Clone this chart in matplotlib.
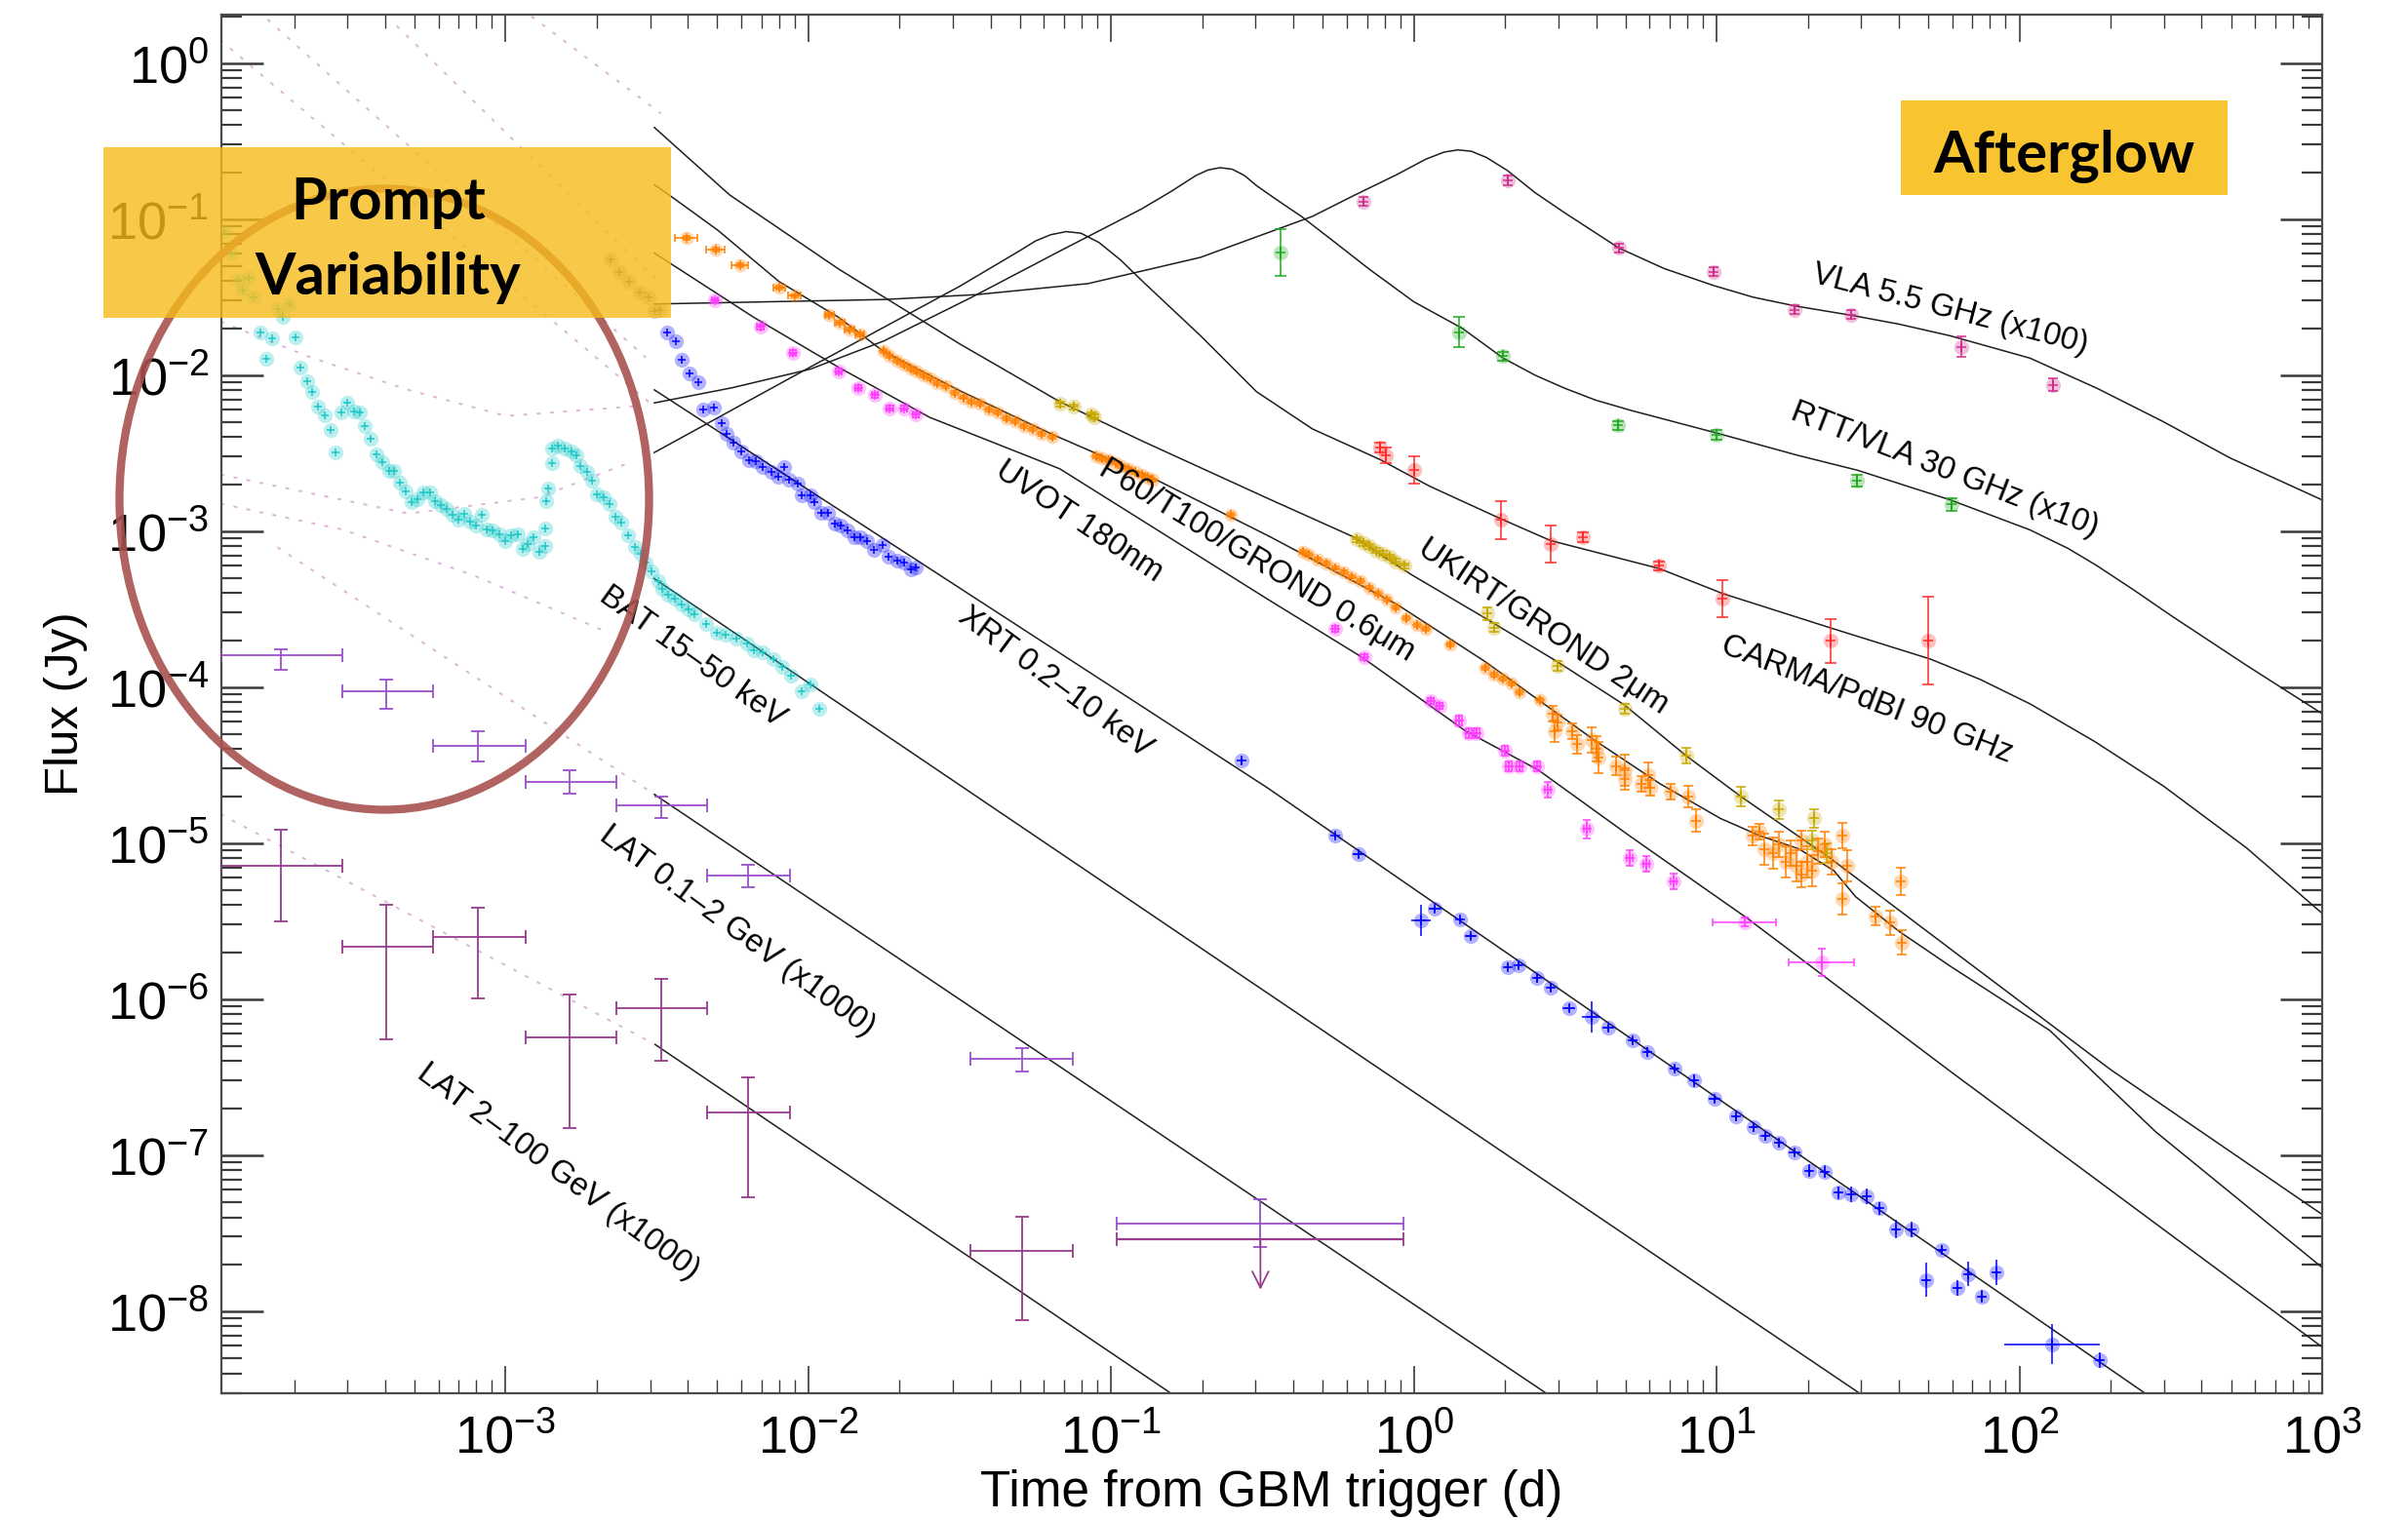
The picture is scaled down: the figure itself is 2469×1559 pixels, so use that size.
import numpy as np
import matplotlib.pyplot as plt
from matplotlib.patches import Ellipse, Rectangle
from matplotlib.ticker import FixedLocator, FuncFormatter, NullFormatter

plt.rcParams['font.family'] = ['Liberation Sans', 'DejaVu Sans']
plt.rcParams['mathtext.fontset'] = 'custom'
plt.rcParams['mathtext.rm'] = 'Liberation Sans'
plt.rcParams['mathtext.it'] = 'Liberation Sans'
plt.rcParams['mathtext.bf'] = 'Liberation Sans'

# ---- data: log10(time / d), log10(flux / Jy) ----
bat_logt = [-3.928, -3.907, -3.885, -3.869, -3.848, -3.832, -3.810, -3.792, -3.772, -3.751,
            -3.735, -3.713, -3.695, -3.678, -3.654, -3.638, -3.620, -3.598, -3.579, -3.561,
            -3.542, -3.522, -3.502, -3.480, -3.464, -3.445, -3.427, -3.407, -3.386, -3.370,
            -3.348, -3.330, -3.310, -3.291, -3.273, -3.251, -3.233, -3.214, -3.194, -3.176,
            -3.155, -3.136, -3.117, -3.098, -3.079, -3.063, -3.042, -3.020, -3.001, -2.983,
            -2.961, -2.945, -2.926, -2.908, -2.888, -2.870, -2.868, -2.865, -2.859, -2.848,
            -2.846, -2.827, -2.805, -2.784, -2.768, -2.752, -2.730, -2.714, -2.698, -2.676,
            -2.657, -2.636, -2.617, -2.596, -2.574, -2.553, -2.537, -2.517, -2.496, -2.483,
            -2.464, -2.440, -2.419, -2.397, -2.376, -2.339, -2.303, -2.274, -2.238, -2.202,
            -2.180, -2.151, -2.115, -2.087, -2.058, -2.022, -1.993, -1.964]
bat_logf = [-1.074, -1.220, -1.386, -1.459, -1.376, -1.501, -1.724, -1.897, -1.762, -1.574,
            -1.626, -1.543, -1.757, -1.949, -2.037, -2.105, -2.199, -2.255, -2.349, -2.495,
            -2.241, -2.178, -2.230, -2.237, -2.328, -2.407, -2.508, -2.557, -2.616, -2.612,
            -2.691, -2.745, -2.814, -2.793, -2.751, -2.751, -2.808, -2.835, -2.856, -2.897,
            -2.924, -2.887, -2.939, -2.966, -2.897, -2.991, -2.995, -3.018, -3.064, -3.029,
            -3.022, -3.116, -3.085, -3.037, -3.133, -3.095, -2.980, -2.808, -2.724, -2.564,
            -2.470, -2.449, -2.470, -2.491, -2.516, -2.585, -2.620, -2.678, -2.762, -2.783,
            -2.828, -2.907, -2.945, -3.029, -3.099, -3.147, -3.199, -3.258, -3.320, -3.370,
            -3.408, -3.433, -3.470, -3.501, -3.533, -3.594, -3.650, -3.664, -3.691, -3.719,
            -3.761, -3.775, -3.817, -3.873, -3.929, -4.026, -3.985, -4.138]

grey_logt = [-2.653, -2.625, -2.591, -2.558, -2.528, -2.510, -2.488]
grey_logf = [-1.257, -1.336, -1.403, -1.470, -1.501, -1.591, -1.580]

xrt_early_logt = [-2.468, -2.439, -2.418, -2.393, -2.364, -2.346, -2.313, -2.288, -2.269, -2.249,
                  -2.223, -2.195, -2.173, -2.151, -2.123, -2.101, -2.079, -2.065, -2.036, -2.022,
                  -1.993, -1.979, -1.957, -1.936, -1.914, -1.892, -1.871, -1.849, -1.828, -1.806,
                  -1.784, -1.756, -1.734, -1.705, -1.684, -1.662, -1.645]
xrt_early_logf = [-1.724, -1.780, -1.900, -1.989, -2.045, -2.218, -2.207, -2.310, -2.374, -2.430,
                  -2.491, -2.542, -2.553, -2.589, -2.617, -2.653, -2.589, -2.673, -2.692, -2.770,
                  -2.770, -2.812, -2.882, -2.882, -2.952, -2.966, -2.994, -3.036, -3.036, -3.063,
                  -3.119, -3.091, -3.161, -3.189, -3.203, -3.245, -3.231]

xrt_late_logt = [-0.568, -0.261, -0.182, 0.023, 0.070, 0.153, 0.188, 0.310, 0.346, 0.408,
                 0.451, 0.512, 0.586, 0.642, 0.723, 0.770, 0.860, 0.925, 0.993, 1.065,
                 1.122, 1.160, 1.206, 1.257, 1.306, 1.356, 1.403, 1.443, 1.495, 1.536,
                 1.591, 1.643, 1.743, 1.692, 1.796, 1.832, 1.877, 1.923, 2.107, 2.264]
xrt_late_logf = [-4.473, -4.952, -5.072, -5.496, -5.421, -5.488, -5.594, -5.795, -5.781, -5.865,
                 -5.924, -6.055, -6.111, -6.182, -6.263, -6.338, -6.445, -6.522, -6.639, -6.754,
                 -6.821, -6.877, -6.922, -6.984, -7.098, -7.106, -7.241, -7.252, -7.262, -7.341,
                 -7.475, -7.475, -7.606, -7.798, -7.850, -7.761, -7.906, -7.750, -8.211, -8.314]
xrt_late_dt = [0, 0, 0.02, 0.032, 0.02, 0.01, 0.02, 0.01, 0.01, 0.01,
               0.01, 0.02, 0.03, 0.02, 0.01, 0.01, 0.01, 0.01, 0.02, 0.01,
               0.01, 0.01, 0.01, 0.02, 0.01, 0.01, 0.01, 0.01, 0.01, 0.01,
               0.01, 0.01, 0.01, 0.01, 0.01, 0.01, 0.01, 0.01, 0.157, 0.01]
xrt_late_df = [0.02, 0.02, 0.02, 0.10, 0.02, 0.02, 0.02, 0.02, 0.02, 0.03,
               0.03, 0.02, 0.10, 0.02, 0.02, 0.03, 0.02, 0.04, 0.02, 0.03,
               0.03, 0.03, 0.03, 0.02, 0.04, 0.04, 0.04, 0.05, 0.05, 0.04,
               0.06, 0.05, 0.03, 0.11, 0.05, 0.08, 0.04, 0.08, 0.13, 0.05]

uvot_logt = [-2.310, -2.159, -2.051, -1.900, -1.835, -1.780, -1.731, -1.684, -1.645,
             -0.261, -0.165, 0.055, 0.084, 0.149, 0.181, 0.206, 0.300, 0.314, 0.350,
             0.408, 0.441, 0.571, 0.713, 0.768, 0.857, 1.092, 1.346]
uvot_logf = [-1.520, -1.690, -1.855, -1.975, -2.081, -2.129, -2.212, -2.212, -2.254,
             -3.627, -3.808, -4.087, -4.121, -4.213, -4.296, -4.296, -4.408, -4.506, -4.506,
             -4.506, -4.659, -4.910, -5.092, -5.134, -5.245, -5.505, -5.762]
uvot_dt = [0.01] * 25 + [0.104, 0.107]
uvot_df = [0.015] * 9 + [0.02, 0.02, 0.02, 0.02, 0.03, 0.03, 0.03, 0.03, 0.03, 0.03,
                         0.03, 0.05, 0.06, 0.05, 0.05, 0.05, 0.03, 0.088]

p60_logt = [-2.403, -2.307, -2.226, -2.097, -2.046, -1.931, -1.897, -1.864, -1.830,
            -1.751, -1.731, -1.708, -1.684, -1.662, -1.641, -1.619, -1.597, -1.576, -1.547,
            -1.518, -1.489, -1.461, -1.432, -1.403, -1.374, -1.345, -1.317, -1.288, -1.259,
            -1.230, -1.194, -1.050, -1.029, -1.007, -0.986, -0.964, -0.942, -0.921, -0.899,
            -0.878, -0.863, -0.604, -0.367, -0.348, -0.319, -0.290, -0.261, -0.232, -0.204,
            -0.175, -0.146, -0.117, -0.088, -0.060, -0.024, 0.012, 0.041, 0.120, 0.235,
            0.264, 0.293, 0.322, 0.350, 0.415]
p60_logf = [-1.118, -1.196, -1.297, -1.439, -1.492, -1.612, -1.662, -1.710, -1.738,
            -1.844, -1.877, -1.905, -1.933, -1.955, -1.975, -2.003, -2.023, -2.050, -2.073,
            -2.115, -2.142, -2.170, -2.184, -2.218, -2.240, -2.274, -2.296, -2.324, -2.346,
            -2.374, -2.394, -2.519, -2.533, -2.547, -2.561, -2.581, -2.603, -2.623, -2.637,
            -2.659, -2.673, -2.896, -3.133, -3.152, -3.180, -3.208, -3.236, -3.264, -3.292,
            -3.320, -3.361, -3.403, -3.440, -3.487, -3.557, -3.599, -3.627, -3.724, -3.878,
            -3.920, -3.947, -3.975, -4.031, -4.082]
p60_dt = [0.037, 0.031, 0.027, 0.02, 0.02, 0.015, 0.015, 0.015, 0.015] + [0.0] * 55

p60_late_logt = [0.458, 0.473, 0.466, 0.523, 0.538, 0.588, 0.602, 0.610, 0.667, 0.696,
                 0.696, 0.753, 0.775, 0.782, 0.847, 0.905, 0.933, 1.120, 1.142, 1.156,
                 1.185, 1.207, 1.228, 1.243, 1.264, 1.279, 1.300, 1.315, 1.279, 1.336,
                 1.358, 1.379, 1.415, 1.430, 1.415, 1.523, 1.574, 1.607, 1.610]
p60_late_logf = [-4.171, -4.227, -4.282, -4.282, -4.366, -4.338, -4.394, -4.450, -4.506, -4.534,
                 -4.590, -4.617, -4.562, -4.645, -4.673, -4.701, -4.855, -4.952, -4.924, -5.036,
                 -5.064, -5.008, -5.120, -5.064, -5.148, -5.203, -5.120, -5.176, -4.980, -5.050,
                 -5.008, -5.120, -4.952, -5.148, -5.357, -5.469, -5.510, -5.245, -5.636]
p60_late_df = [0.05, 0.05, 0.07, 0.05, 0.06, 0.08, 0.08, 0.10, 0.06, 0.10,
               0.07, 0.05, 0.08, 0.05, 0.05, 0.07, 0.07, 0.06, 0.05, 0.10,
               0.10, 0.08, 0.10, 0.08, 0.10, 0.08, 0.10, 0.10, 0.06, 0.08,
               0.08, 0.08, 0.08, 0.10, 0.10, 0.06, 0.08, 0.09, 0.08]

ukirt_logt = [-1.168, -1.125, -1.065, -1.055, -0.189, -0.168, -0.146, -0.124, -0.103, -0.081,
              -0.060, -0.031, 0.243, 0.264, 0.473, 0.696, 0.900, 1.080, 1.207, 1.322,
              1.315, 1.365]
ukirt_logf = [-2.184, -2.204, -2.254, -2.268, -3.054, -3.077, -3.096, -3.124, -3.144, -3.166,
              -3.194, -3.222, -3.529, -3.618, -3.864, -4.137, -4.436, -4.701, -4.785, -4.841,
              -4.980, -5.064]
ukirt_df = [0.015] * 12 + [0.04, 0.03, 0.03, 0.03, 0.05, 0.06, 0.06, 0.06, 0.06, 0.06]

carma_logt = [-0.113, -0.091, 0.002, 0.286, 0.451, 0.559, 0.811, 1.020, 1.375, 1.700]
carma_logf = [-2.465, -2.513, -2.608, -2.929, -3.082, -3.040, -3.222, -3.431, -3.702, -3.702]
carma_df = [0.03, 0.05, 0.09, 0.12, 0.12, 0.03, 0.03, 0.12, 0.14, 0.28]

rtt_logt = [-0.442, 0.150, 0.295, 0.673, 0.998, 1.464, 1.776]
rtt_logf = [-1.217, -1.724, -1.879, -2.322, -2.382, -2.676, -2.829]
rtt_df = [0.15, 0.095, 0.03, 0.03, 0.03, 0.04, 0.04]

vla_logt = [-0.168, 0.310, 0.677, 0.989, 1.257, 1.444, 1.809, 2.112]
vla_logf = [-0.886, -0.750, -1.185, -1.336, -1.580, -1.611, -1.819, -2.063]
vla_df = [0.03, 0.03, 0.03, 0.03, 0.03, 0.03, 0.065, 0.04]

# LAT bins (shared by both bands)
lat_logt = [-3.743, -3.393, -3.093, -2.790, -2.487, -2.199, -1.293, -0.507]
lat_logt_lo = [-3.939, -3.538, -3.239, -2.934, -2.634, -2.335, -1.464, -0.981]
lat_logt_hi = [-3.538, -3.239, -2.934, -2.634, -2.335, -2.062, -1.127, -0.033]
latlo_logf = [-3.797, -4.024, -4.378, -4.608, -4.760, -5.208, -6.380, -7.439]
latlo_logf_lo = [-3.890, -4.137, -4.476, -4.681, -4.837, -5.280, -6.463, -7.587]
latlo_logf_hi = [-3.756, -3.952, -4.280, -4.531, -4.703, -5.139, -6.313, -7.282]
lathi_logf = [-5.148, -5.662, -5.601, -6.244, -6.059, -6.725, -7.616]
lathi_logf_lo = [-5.500, -6.255, -5.992, -6.826, -6.394, -7.267, -8.059]
lathi_logf_hi = [-4.914, -5.392, -5.415, -5.967, -5.872, -6.499, -7.392]
lathi_limit_logf = -7.537
lathi_limit_tip = -7.862

# model curves (log t, log F)
model_vla = [(-2.509, -1.544), (-1.748, -1.515), (-1.446, -1.484), (-1.076, -1.413), (-0.705, -1.245),
             (-0.335, -0.982), (-0.20, -0.850), (-0.057, -0.715), (0.04, -0.615), (0.10, -0.570),
             (0.146, -0.556), (0.19, -0.565), (0.24, -0.605), (0.310, -0.690), (0.40, -0.830),
             (0.497, -0.958), (0.677, -1.185), (0.827, -1.317), (0.989, -1.425), (1.12, -1.500),
             (1.258, -1.556), (1.444, -1.616), (1.60, -1.672), (1.772, -1.748), (2.035, -1.891),
             (2.255, -2.083), (2.475, -2.298), (2.695, -2.530), (3.0, -2.800)]
model_rtt = [(-2.509, -2.178), (-2.25, -2.080), (-1.993, -1.961), (-1.75, -1.780), (-1.461, -1.501),
             (-1.173, -1.208), (-0.90, -0.935), (-0.80, -0.820), (-0.72, -0.720), (-0.68, -0.685),
             (-0.641, -0.670), (-0.60, -0.680), (-0.56, -0.720), (-0.520, -0.785), (-0.45, -0.880),
             (-0.372, -0.982), (-0.26, -1.150), (-0.150, -1.317), (0.0, -1.530), (0.160, -1.700),
             (0.295, -1.891), (0.40, -2.000), (0.497, -2.083), (0.60, -2.160), (0.717, -2.226),
             (0.998, -2.370), (1.266, -2.513), (1.464, -2.609), (1.772, -2.800), (2.035, -2.992),
             (2.16, -3.110), (2.255, -3.220), (2.38, -3.380), (2.5, -3.540), (2.75, -3.860),
             (3.0, -4.170)]
model_carma = [(-2.509, -2.496), (-1.993, -1.947), (-1.5, -1.430), (-1.30, -1.200), (-1.25, -1.140),
               (-1.20, -1.100), (-1.149, -1.080), (-1.10, -1.090), (-1.04, -1.150), (-0.97, -1.260),
               (-0.890, -1.410), (-0.705, -1.747), (-0.520, -2.106), (-0.335, -2.345), (-0.113, -2.540),
               (0.05, -2.710), (0.286, -2.920), (0.451, -3.060), (0.811, -3.240), (1.020, -3.400),
               (1.376, -3.620), (1.706, -3.820), (1.87, -3.950), (2.035, -4.107), (2.25, -4.350),
               (2.475, -4.633), (2.75, -5.030), (3.0, -5.450)]
model_ukirt = [(-2.509, -0.412), (-2.26, -0.845), (-1.9, -1.320), (-1.5, -1.800), (-1.17, -2.170),
               (-0.9, -2.420), (-0.484, -2.789), (-0.196, -3.040), (-0.009, -3.278), (0.235, -3.557),
               (0.473, -3.836), (0.696, -4.115), (0.897, -4.436), (1.080, -4.701), (1.372, -5.092),
               (1.772, -5.678), (2.3, -6.450), (3.0, -7.380)]
model_p60 = [(-2.509, -0.779), (-2.46, -0.845), (-2.3, -1.070), (-2.097, -1.400), (-1.90, -1.630),
             (-1.751, -1.849), (-1.5, -2.100), (-1.194, -2.380), (-0.863, -2.659), (-0.484, -3.027),
             (-0.376, -3.138), (-0.053, -3.473), (0.235, -3.836), (0.595, -4.338), (0.811, -4.617),
             (1.012, -4.841), (1.142, -4.952), (1.271, -5.036), (1.387, -5.176), (1.459, -5.343),
             (1.603, -5.566), (1.772, -5.789), (2.1, -6.200), (2.45, -6.850), (3.0, -7.720)]
model_uvot = [(-2.509, -1.217), (-2.18, -1.630), (-1.9, -1.950), (-1.6, -2.270), (-1.17, -2.600),
              (-0.48, -3.440), (-0.17, -3.810), (0.17, -4.280), (0.41, -4.530), (0.71, -4.950),
              (1.10, -5.480), (1.77, -6.460), (3.0, -8.230)]
model_xrt = [(-2.509, -2.094), (-0.484, -4.645), (0.955, -6.571), (2.45, -8.573)]
model_bat = [(-2.510, -3.303), (1.51, -8.576)]
model_latlo = [(-2.509, -4.687), (0.47, -8.569)]
model_lathi = [(-2.506, -6.291), (-0.77, -8.569)]

# early-time extrapolations (dotted)
extrap = [
    [(-3.944, 0.15), (-2.51, -2.20)],
    [(-3.787, 0.28), (-2.537, -1.887)],
    [(-3.36, 0.239), (-2.504, -1.386)],
    [(-2.915, 0.30), (-2.487, -0.323)],
    [(-3.942, -1.657), (-3.644, -1.886), (-3.321, -2.095), (-2.999, -2.262), (-2.569, -2.199)],
    [(-3.942, -2.637), (-3.321, -2.887), (-2.891, -2.783), (-2.580, -2.553)],
    [(-3.942, -2.824), (-3.536, -2.991), (-3.106, -3.283), (-2.677, -3.637)],
    [(-3.754, -3.103), (-2.509, -4.687)],
    [(-3.943, -4.813), (-2.506, -6.291)],
]

labels = [
    ('VLA 5.5 GHz (x100)', 2000, 318, 14.6),
    ('RTT/VLA 30 GHz (x10)', 1994, 482, 21.1),
    ('CARMA/PdBI 90 GHz', 1914, 718, 20.9),
    ('UKIRT/GROND 2\u03bcm', 1582, 643, 33.5),
    ('P60/T100/GROND 0.6\u03bcm', 1289, 575, 31.2),
    ('UVOT 180nm', 1106, 535, 33.7),
    ('XRT 0.2\u201310 keV', 1082, 700, 36.5),
    ('BAT 15\u201350 keV', 710, 674, 35.6),
    ('LAT 0.1\u20132 GeV (x1000)', 756, 955, 36.4),
    ('LAT 2\u2013100 GeV (x1000)', 572, 1202, 36.5),
]

W, H = 2469, 1559
fig = plt.figure(figsize=(W / 100, H / 100), dpi=100)
ax = fig.add_axes([227 / W, 1 - 1429 / H, 2154 / W, 1414 / H])
ax.set_xscale('log')
ax.set_yscale('log')
ax.set_xlim(10 ** -3.939, 1e3)
ax.set_ylim(10 ** -8.526, 10 ** 0.311)


def fx(x):
    return x / W


def fy(y):
    return 1 - y / H


def curve(pts, **kw):
    lt, lf = zip(*pts)
    ax.plot(10 ** np.array(lt), 10 ** np.array(lf), **kw)


def points(logt, logf, color, dt=0.0, df=0.0, cap=0, halo=10, ms=7, z=4):
    t = 10 ** np.asarray(logt, float)
    f = 10 ** np.asarray(logf, float)
    dt = np.broadcast_to(np.asarray(dt, float), t.shape)
    df = np.broadcast_to(np.asarray(df, float), t.shape)
    xerr = [t - t * 10 ** -dt, t * 10 ** dt - t]
    yerr = [f - f * 10 ** -df, f * 10 ** df - f]
    if halo:
        ax.plot(t, f, 'o', ms=halo, color=color, alpha=0.3, mec='none', zorder=z - 1)
    ax.errorbar(t, f, xerr=xerr, yerr=yerr, fmt='+', color=color, ms=ms, mew=1.1,
                elinewidth=1.1, capsize=cap, capthick=1.1, zorder=z)


for pts in extrap:
    curve(pts, color='#dcb4d8', lw=1.4, ls=(0, (2, 5)), zorder=1)

for pts in [model_vla, model_rtt, model_carma, model_ukirt, model_p60, model_uvot,
            model_xrt, model_bat, model_latlo, model_lathi]:
    curve(pts, color='#1e1e1e', lw=1.1, zorder=2)

points(bat_logt, bat_logf, '#1ec8c8', halo=11, ms=6)
points(grey_logt, grey_logf, '#6e6e6e', halo=11, ms=6)
points(xrt_early_logt, xrt_early_logf, '#0000ff', halo=11, ms=6)
points(xrt_late_logt, xrt_late_logf, '#0000ff', xrt_late_dt, xrt_late_df, halo=11, ms=7)
points(uvot_logt, uvot_logf, '#ff3cff', uvot_dt, uvot_df, cap=3, halo=11)
points(p60_logt, p60_logf, '#ff8000', p60_dt, 0.012, cap=3, halo=10)
points(p60_late_logt, p60_late_logf, '#ff8000', 0.0, p60_late_df, cap=3.5, halo=11)
points(ukirt_logt, ukirt_logf, '#c8a800', 0.0, ukirt_df, cap=3.5, halo=11)
points(carma_logt, carma_logf, '#ff2a2a', 0.0, carma_df, cap=4, halo=11)
points(rtt_logt, rtt_logf, '#22a822', 0.0, rtt_df, cap=4, halo=11)
points(vla_logt, vla_logf, '#d02c8c', 0.0, vla_df, cap=3.5, halo=11)

# LAT bins with horizontal and vertical error bars
lt = 10 ** np.array(lat_logt)
xerr = [lt - 10 ** np.array(lat_logt_lo), 10 ** np.array(lat_logt_hi) - lt]
lf = 10 ** np.array(latlo_logf)
ax.errorbar(lt, lf, xerr=xerr, yerr=[lf - 10 ** np.array(latlo_logf_lo), 10 ** np.array(latlo_logf_hi) - lf],
            fmt='none', ecolor='#9b4fcb', elinewidth=1.3, capsize=5, capthick=1.3, zorder=4)
hf = 10 ** np.array(lathi_logf)
ax.errorbar(lt[:7], hf, xerr=[xerr[0][:7], xerr[1][:7]],
            yerr=[hf - 10 ** np.array(lathi_logf_lo), 10 ** np.array(lathi_logf_hi) - hf],
            fmt='none', ecolor='#963c8c', elinewidth=1.3, capsize=5, capthick=1.3, zorder=4)
ax.errorbar(lt[7:], [10 ** lathi_limit_logf], xerr=[xerr[0][7:], xerr[1][7:]], fmt='none',
            ecolor='#963c8c', elinewidth=1.6, capsize=5, capthick=1.3, zorder=4)
ax.annotate('', xy=(lt[7], 10 ** lathi_limit_tip), xytext=(lt[7], 10 ** lathi_limit_logf),
            arrowprops=dict(arrowstyle='->', color='#963c8c', lw=1.3, mutation_scale=30,
                            shrinkA=0, shrinkB=0), zorder=4)

# axes styling: decade ticks with 2..9 minors, only inside the plotted range
xdec = np.arange(-4, 4)
ydec = np.arange(-9, 1)
ax.xaxis.set_major_locator(FixedLocator(10.0 ** np.arange(-3, 4)))
ax.yaxis.set_major_locator(FixedLocator(10.0 ** np.arange(-8, 1)))
xmin_ = [m * 10.0 ** d for d in xdec for m in range(2, 10)]
ymin_ = [m * 10.0 ** d for d in ydec for m in range(2, 10)]
ax.xaxis.set_minor_locator(FixedLocator([v for v in xmin_ if 10 ** -3.939 < v < 1e3]))
ax.yaxis.set_minor_locator(FixedLocator([v for v in ymin_ if 10 ** -8.526 < v < 10 ** 0.311]))
fmt = FuncFormatter(lambda v, p: r'$10^{%d}$' % round(np.log10(v)))
ax.xaxis.set_major_formatter(fmt)
ax.yaxis.set_major_formatter(fmt)
ax.xaxis.set_minor_formatter(NullFormatter())
ax.yaxis.set_minor_formatter(NullFormatter())
ax.tick_params(which='both', direction='in', top=True, right=True, colors='#3a3a3a',
               labelcolor='black', labelsize=39)
ax.tick_params(axis='x', which='major', length=20, width=1.2, pad=15)
ax.tick_params(axis='x', which='minor', length=10, width=1.0)
ax.tick_params(axis='y', which='major', length=31, width=1.8, pad=9)
ax.tick_params(axis='y', which='minor', length=15, width=1.6)
for s in ax.spines.values():
    s.set_linewidth(1.6)
    s.set_color('#4a4a4a')

fig.text(fx(1304), fy(1545), 'Time from GBM trigger (d)', ha='center', va='baseline', fontsize=37)
fig.text(fx(68), fy(722), 'Flux (Jy)', ha='center', va='center', rotation=90, fontsize=35.5)

for text, x, y, ang in labels:
    fig.text(fx(x), fy(y), text, ha='center', va='center', rotation=-ang,
             rotation_mode='anchor', fontsize=23.5, zorder=5)

# prompt-phase highlight and callouts
fig.add_artist(Ellipse((fx(394), fy(512)), 543 / W, 637 / H, transform=fig.transFigure,
                       fill=False, ec='#a8524f', lw=6.0, alpha=0.9, zorder=6))
fig.add_artist(Rectangle((fx(105.5), fy(326)), 582.5 / W, 175 / H, transform=fig.transFigure,
                         fc='#f7bc1a', ec='none', alpha=0.8, zorder=7))
fig.add_artist(Rectangle((fx(1948.7), fy(200.2)), 335.3 / W, 97.6 / H, transform=fig.transFigure,
                         fc='#f8c430', ec='none', zorder=7))
box_font = dict(family=['Lato', 'DejaVu Sans'], weight='bold', fontsize=43, zorder=8)
fig.text(fx(398), fy(225), 'Prompt', ha='center', va='baseline', **box_font)
fig.text(fx(398), fy(302), 'Variability', ha='center', va='baseline', **box_font)
fig.text(fx(2116), fy(177), 'Afterglow', ha='center', va='baseline', **box_font)

fig.savefig('out.png', dpi=100)
